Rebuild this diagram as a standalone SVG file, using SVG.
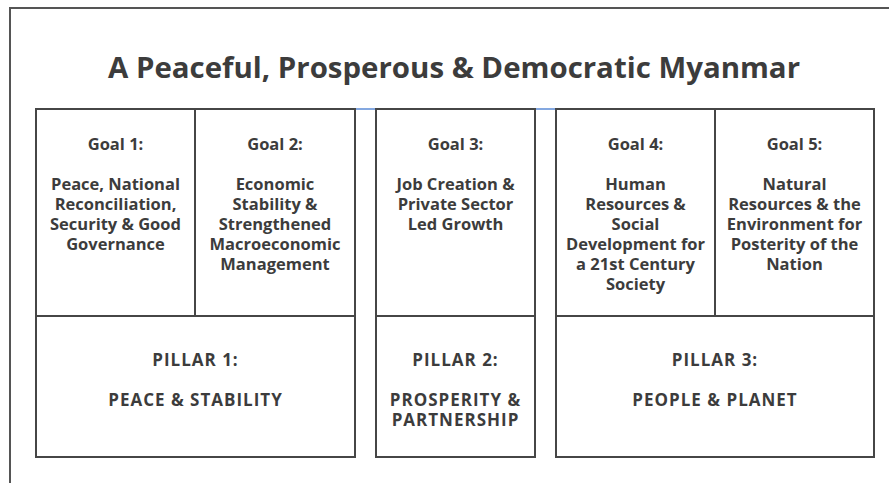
<svg xmlns="http://www.w3.org/2000/svg" width="889" height="483" viewBox="0 0 889 483">
<style>
.box{fill:#fff;stroke:#464646;stroke-width:2}
.t{font-family:"Open Sans",Lato,"Liberation Sans",sans-serif;font-weight:bold;fill:#3c3c3c;text-anchor:middle;font-size:16.5px}
.p{font-size:17px;letter-spacing:1px}
.title{font-family:"Open Sans",Lato,"Liberation Sans",sans-serif;font-weight:bold;fill:#3c3c3c;text-anchor:middle;font-size:29px}
.link{stroke:#5b8bd6;stroke-width:1.5}
</style>
<rect width="889" height="483" fill="#fff"/>
<path d="M10,483 V8 H889" fill="none" stroke="#555" stroke-width="2"/>
<text class="title" x="454" y="78" textLength="692" lengthAdjust="spacingAndGlyphs">A Peaceful, Prosperous &amp; Democratic Myanmar</text>
<g id="connectors">
<line class="link" x1="355" y1="109" x2="376" y2="109"/>
<line class="link" x1="535" y1="109" x2="556" y2="109"/>
</g>
<g id="goal1">
<rect class="box" x="36" y="109" width="159" height="207"/>
<text class="t" x="115.5" y="150">Goal 1:</text>
<text class="t" x="115.5" y="190">Peace, National</text>
<text class="t" x="115.5" y="210">Reconciliation,</text>
<text class="t" x="115.5" y="230">Security &amp; Good</text>
<text class="t" x="115.5" y="250">Governance</text>
</g>
<g id="goal2">
<rect class="box" x="195" y="109" width="160" height="207"/>
<text class="t" x="275" y="150">Goal 2:</text>
<text class="t" x="275" y="190">Economic</text>
<text class="t" x="275" y="210">Stability &amp;</text>
<text class="t" x="275" y="230">Strengthened</text>
<text class="t" x="275" y="250">Macroeconomic</text>
<text class="t" x="275" y="270">Management</text>
</g>
<g id="goal3">
<rect class="box" x="376" y="109" width="159" height="207"/>
<text class="t" x="455.5" y="150">Goal 3:</text>
<text class="t" x="455.5" y="190">Job Creation &amp;</text>
<text class="t" x="455.5" y="210">Private Sector</text>
<text class="t" x="455.5" y="230">Led Growth</text>
</g>
<g id="goal4">
<rect class="box" x="556" y="109" width="159" height="207"/>
<text class="t" x="635.5" y="150">Goal 4:</text>
<text class="t" x="635.5" y="190">Human</text>
<text class="t" x="635.5" y="210">Resources &amp;</text>
<text class="t" x="635.5" y="230">Social</text>
<text class="t" x="635.5" y="250">Development for</text>
<text class="t" x="635.5" y="270">a 21st Century</text>
<text class="t" x="635.5" y="290">Society</text>
</g>
<g id="goal5">
<rect class="box" x="715" y="109" width="159" height="207"/>
<text class="t" x="794.5" y="150">Goal 5:</text>
<text class="t" x="794.5" y="190">Natural</text>
<text class="t" x="794.5" y="210">Resources &amp; the</text>
<text class="t" x="794.5" y="230">Environment for</text>
<text class="t" x="794.5" y="250">Posterity of the</text>
<text class="t" x="794.5" y="270">Nation</text>
</g>
<g id="pillar1">
<rect class="box" x="36" y="316" width="319" height="141"/>
<text class="t p" x="195.5" y="366">PILLAR 1:</text>
<text class="t p" x="195.5" y="406">PEACE &amp; STABILITY</text>
</g>
<g id="pillar2">
<rect class="box" x="376" y="316" width="159" height="141"/>
<text class="t p" x="455.5" y="366">PILLAR 2:</text>
<text class="t p" x="455.5" y="406">PROSPERITY &amp;</text>
<text class="t p" x="455.5" y="426">PARTNERSHIP</text>
</g>
<g id="pillar3">
<rect class="box" x="556" y="316" width="318" height="141"/>
<text class="t p" x="715" y="366">PILLAR 3:</text>
<text class="t p" x="715" y="406">PEOPLE &amp; PLANET</text>
</g>
</svg>
